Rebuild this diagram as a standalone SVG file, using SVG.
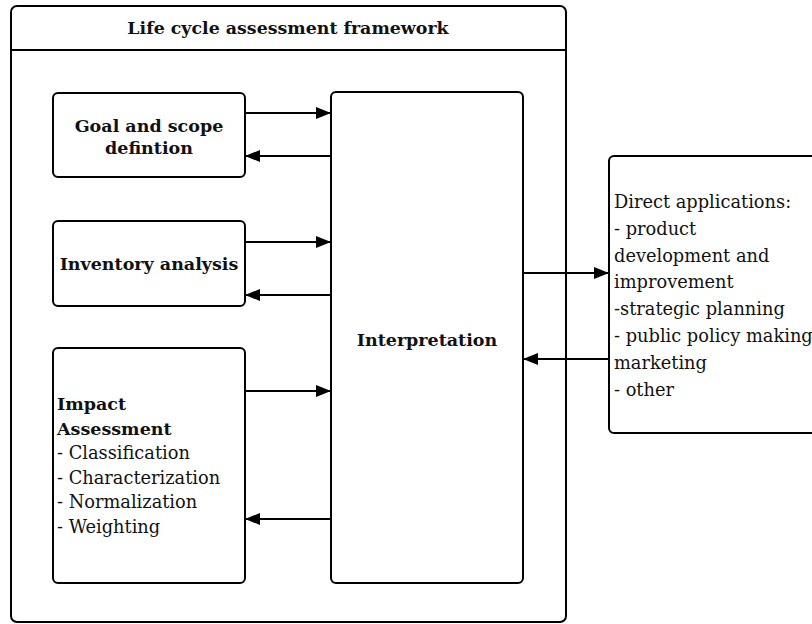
<svg xmlns="http://www.w3.org/2000/svg" width="812" height="624" viewBox="0 0 812 624">
<style>
.box{fill:#fff;stroke:#000;stroke-width:2}
.t{font-family:"DejaVu Serif","Liberation Serif",serif;fill:#111}
.b{font-weight:bold}
.c{text-anchor:middle}
.ln{stroke:#000;stroke-width:2;fill:none}
</style>
<defs>
<marker id="ah" markerWidth="15" markerHeight="12" refX="15" refY="6" orient="auto" markerUnits="userSpaceOnUse">
<path d="M0,0 L15,6 L0,12 Z" fill="#000"/>
</marker>
</defs>
<rect width="812" height="624" fill="#fff"/>
<g id="frame">
<rect class="box" x="11" y="6" width="555" height="616" rx="6"/>
<line class="ln" x1="11" y1="50" x2="566" y2="50"/>
<text class="t b c" x="288" y="34" font-size="17.4">Life cycle assessment framework</text>
</g>
<g id="goal">
<rect class="box" x="53" y="93" width="192" height="84" rx="5"/>
<text class="t b c" x="149" y="132" font-size="17.5">Goal and scope</text>
<text class="t b c" x="149" y="154" font-size="17.5">defintion</text>
</g>
<g id="inventory">
<rect class="box" x="53" y="221" width="192" height="85" rx="5"/>
<text class="t b c" x="149" y="270" font-size="17.5">Inventory analysis</text>
</g>
<g id="impact">
<rect class="box" x="53" y="348" width="192" height="235" rx="5"/>
<text class="t" x="57" y="410" font-size="17.8"><tspan class="b" font-size="17.5">Impact</tspan><tspan class="b" font-size="17.5" x="57" dy="24.6">Assessment</tspan><tspan x="57" dy="24.6">- Classification</tspan><tspan x="57" dy="24.6">- Characterization</tspan><tspan x="57" dy="24.6">- Normalization</tspan><tspan x="57" dy="24.6">- Weighting</tspan></text>
</g>
<g id="interpretation">
<rect class="box" x="331" y="92" width="192" height="491" rx="5"/>
<text class="t b c" x="427" y="346" font-size="17.5">Interpretation</text>
</g>
<g id="applications">
<rect class="box" x="609" y="156" width="240" height="277" rx="5"/>
<text class="t" x="614" y="208" font-size="17.8"><tspan>Direct applications:</tspan><tspan x="614" dy="26.8">- product</tspan><tspan x="614" dy="26.8">development and</tspan><tspan x="614" dy="26.8">improvement</tspan><tspan x="614" dy="26.8">-strategic planning</tspan><tspan x="614" dy="26.8">- public policy making</tspan><tspan x="614" dy="26.8">marketing</tspan><tspan x="614" dy="26.8">- other</tspan></text>
</g>
<g id="connectors">
<line class="ln" x1="245" y1="113" x2="331" y2="113" marker-end="url(#ah)"/>
<line class="ln" x1="331" y1="156" x2="245" y2="156" marker-end="url(#ah)"/>
<line class="ln" x1="245" y1="242" x2="331" y2="242" marker-end="url(#ah)"/>
<line class="ln" x1="331" y1="295" x2="245" y2="295" marker-end="url(#ah)"/>
<line class="ln" x1="245" y1="391" x2="331" y2="391" marker-end="url(#ah)"/>
<line class="ln" x1="331" y1="519" x2="245" y2="519" marker-end="url(#ah)"/>
<line class="ln" x1="523" y1="273" x2="609" y2="273" marker-end="url(#ah)"/>
<line class="ln" x1="609" y1="359" x2="523" y2="359" marker-end="url(#ah)"/>
</g>
</svg>
